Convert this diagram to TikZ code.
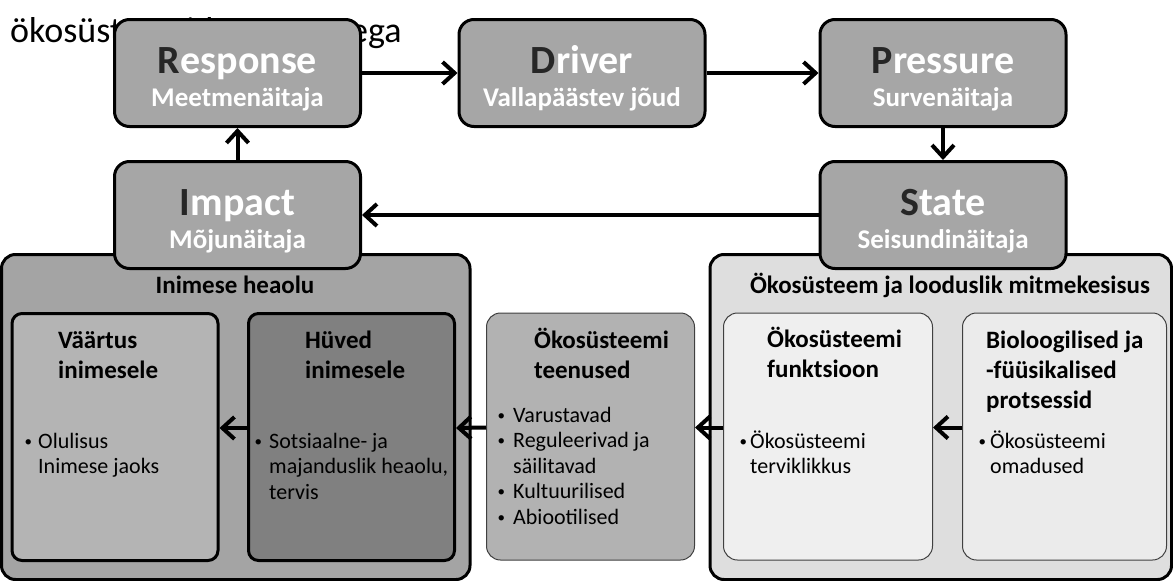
\documentclass[tikz,border=0pt]{standalone}
\usepackage{fontspec}
\setmainfont{Carlito}
\usetikzlibrary{arrows.meta,calc}
\definecolor{initial}{HTML}{262626}
\definecolor{boxgray}{HTML}{A6A6A6}
\definecolor{panelL}{HTML}{A4A4A4}
\definecolor{panelR}{HTML}{DEDEDE}
\definecolor{valuegray}{HTML}{B4B4B4}
\definecolor{benefitgray}{HTML}{808080}
\definecolor{servgray}{HTML}{B2B2B2}
\definecolor{funcgray}{HTML}{EFEFEF}
\definecolor{biogray}{HTML}{EBEBEB}
\tikzset{
  dpsir/.style={draw=black, line width=3pt, rounded corners=15pt, fill=boxgray,
    minimum width=246pt, minimum height=107pt, inner sep=0pt},
  ttl/.style={font=\fontsize{40}{42}\selectfont\bfseries, text=white, inner sep=0pt, anchor=base},
  subttl/.style={font=\fontsize{27}{30}\selectfont\bfseries, text=white, inner sep=0pt, anchor=base},
  panel/.style={draw=black, line width=3pt, rounded corners=14pt},
  thickbox/.style={draw=black, line width=3pt, rounded corners=10pt, inner sep=0pt,
    minimum width=206pt, minimum height=247pt},
  thinbox/.style={draw=black!75, line width=1pt, rounded corners=14pt, inner sep=0pt,
    minimum height=247pt},
  head/.style={font=\fontsize{25}{30}\selectfont\bfseries, align=left, anchor=base west, inner sep=0pt},
  txt/.style={font=\fontsize{22}{25.5}\selectfont, align=left, anchor=base west, inner sep=0pt},
  arr/.style={line width=4pt, -{Straight Barb[length=12pt,width=22pt]}}
}
\begin{document}
\begin{tikzpicture}[x=1pt,y=-1pt]
	\useasboundingbox (0,0) rectangle (1173,581);
	% Täpp loetelule
	\def\bul#1{\llap{\raisebox{2pt}{\fontsize{15}{15}\selectfont•}\hspace{#1}}}
% Pealkiri (osaliselt kasti taga)
	\node[font=\fontsize{36}{40}\selectfont, anchor=base west, inner sep=0pt] (title) at (10,42) {ökosüsteemide teenustega};
%
% Alumised paneelid
	\draw[panel, fill=panelL] (1.5,254.5) rectangle (470,579.5);
	\draw[panel, fill=panelR] (710,254.5) rectangle (1171.5,579.5);
	\node[head, anchor=base] (wellhead) at (235,293) {Inimese heaolu};
	\node[head, anchor=base] (ecohead) at (950,293) {Ökosüsteem ja looduslik mitmekesisus};
%
% DPSIR kastid
	\foreach \nm/\xx/\yy/\ini/\rest/\undr in {resp/237.5/73/R/esponse/Meetmenäitaja,
		drv/582/73/D/river/Vallapäästev jõud, pres/943/73/P/ressure/Survenäitaja,
		imp/237.5/215/I/mpact/Mõjunäitaja, state/943/215/S/tate/Seisundinäitaja}{
		\node[dpsir] (\nm) at (\xx,\yy) {};
		\node[ttl] (\nm t) at (\nm.center) {\textcolor{initial}{\ini}\rest};
		\node[subttl] (\nm s) at ($(\nm.center)+(0,33)$) {\undr};
	};
	\draw[arr] (resp) -- (drv);
	\draw[arr] (drv) -- (pres);
	\draw[arr] (pres) -- (state);
	\draw[arr] (state) -- (imp);
	\draw[arr] (imp) -- (resp);
%
% Sisemised kastid
	\node[thickbox, fill=valuegray] (vaartus) at (115,437) {};
	\node[thickbox, fill=benefitgray] (huved) at (351.5,437) {};
	\node[thinbox, fill=servgray, minimum width=208pt] (teenused) at (590.5,436.5) {};
	\node[thinbox, fill=funcgray, minimum width=209pt] (funkts) at (828,436.5) {};
	\node[thinbox, fill=biogray, minimum width=204pt] (bio) at (1064.5,436.5) {};
%
% (ankur = viimase rea baasjoon)
	\node[head] (vaartush) at (58,378) {Väärtus\\inimesele};
	\node[txt] (vaartust) at (38,473.5) {\bul{6pt}Olulisus\\Inimese jaoks};
	\node[head] (huvedh) at (305,378) {Hüved\\inimesele};
	\node[txt] (huvedt) at (269,499) {\bul{7pt}Sotsiaalne- ja\\majanduslik heaolu,\\tervis};
	\node[head] (teenh) at (534,378) {Ökosüsteemi\\teenused};
	\node[txt] (teent) at (513,524) {\bul{8pt}Varustavad\\\bul{8pt}Reguleerivad ja\\säilitavad\\\bul{8pt}Kultuurilised\\\bul{8pt}Abiootilised};
	\node[head] (funkth) at (767,377) {Ökosüsteemi\\funktsioon};
	\node[txt] (funktt) at (750,473.5) {\bul{3pt}Ökosüsteemi\\terviklikkus};
	\node[head] (bioh) at (986,408) {Bioloogilised ja\\-füüsikalised\\protsessid};
	\node[txt] (biot) at (990,473.5) {\bul{4pt}Ökosüsteemi\\omadused};
%
	\draw[arr] ([yshift=9pt]huved.west) -- ([yshift=9pt]vaartus.east);
	\draw[arr] ([yshift=9pt]teenused.west) -- ([yshift=9pt]huved.east);
	\draw[arr] ([yshift=9pt]funkts.west) -- ([yshift=9pt]teenused.east);
	\draw[arr] ([yshift=9pt]bio.west) -- ([yshift=9pt]funkts.east);
\end{tikzpicture}
\end{document}
